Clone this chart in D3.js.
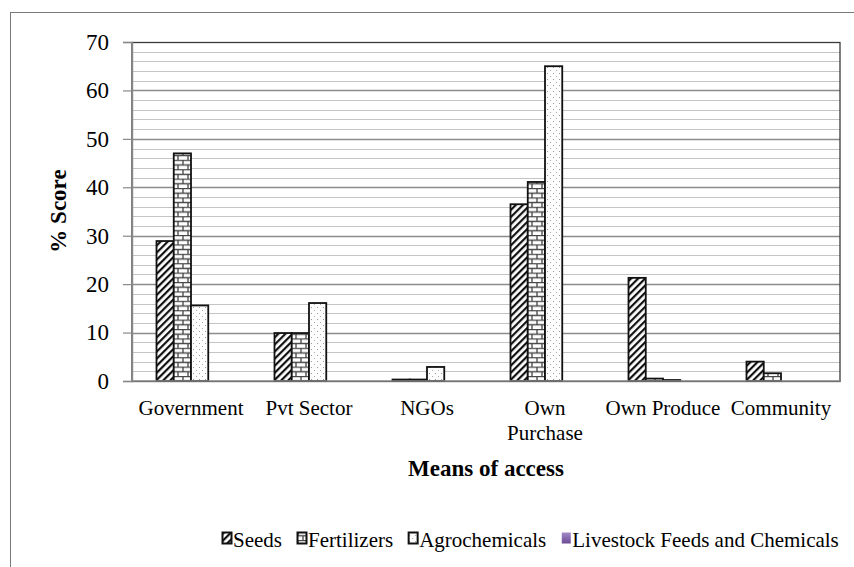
<!DOCTYPE html>
<html>
<head>
<meta charset="utf-8">
<script src="https://cdn.jsdelivr.net/npm/d3@7"></script>
<style>
  body { margin: 0; background: #fff; }
  svg text { font-family: "Liberation Serif", serif; fill: #000; }
</style>
</head>
<body>
<svg id="vis"></svg>
<script>
const categories = ["Government", "Pvt Sector", "NGOs", "Own Purchase", "Own Produce", "Community"];
const seriesNames = ["Seeds", "Fertilizers", "Agrochemicals", "Livestock Feeds and Chemicals"];
const seeds = [28.9, 9.9, 0.3, 36.5, 21.3, 4.0];
const fertilizers = [47.0, 9.9, 0.3, 41.1, 0.5, 1.6];
const agrochemicals = [15.6, 16.1, 2.9, 65.0, 0.2, 0];
const livestock = [0, 0, 0, 0, 0, 0];
const yTicks = [0, 10, 20, 30, 40, 50, 60, 70];

const WIDTH = 854;
const HEIGHT = 567;
const FONT = "Liberation Serif";
const plot = { left: 132, right: 840, top: 42, bottom: 381 };

const SVG = d3.select("#vis").attr("width", WIDTH).attr("height", HEIGHT)
  .attr("font-family", FONT);

// patterns for the bars
const defs = SVG.append("defs");

const hatch = defs.append("pattern").attr("id", "p_seeds")
  .attr("patternUnits", "userSpaceOnUse")
  .attr("width", 5).attr("height", 5)
  .attr("patternTransform", "rotate(45)");
hatch.append("rect").attr("width", 5).attr("height", 5).attr("fill", "#fff");
hatch.append("rect").attr("width", 2.2).attr("height", 5).attr("fill", "#111");

const brick = defs.append("pattern").attr("id", "p_fert")
  .attr("patternUnits", "userSpaceOnUse")
  .attr("width", 10).attr("height", 9.4);
brick.append("rect").attr("width", 10).attr("height", 9.4).attr("fill", "#fff");
brick.append("path")
  .attr("d", "M0,0.5H10M0,5.2H10M1,0.5V5.2M6,5.2V9.4")
  .attr("stroke", "#444").attr("stroke-width", 1.3).attr("fill", "none");

const dots = defs.append("pattern").attr("id", "p_agro")
  .attr("patternUnits", "userSpaceOnUse")
  .attr("width", 6).attr("height", 6);
dots.append("rect").attr("width", 6).attr("height", 6).attr("fill", "#fdfdfd");
dots.append("rect").attr("x", 1).attr("y", 1).attr("width", 1).attr("height", 1).attr("fill", "#999");
dots.append("rect").attr("x", 4).attr("y", 4).attr("width", 1).attr("height", 1).attr("fill", "#aaa");

const grad = defs.append("linearGradient").attr("id", "p_live")
  .attr("x1", 0).attr("y1", 0).attr("x2", 0).attr("y2", 1);
grad.append("stop").attr("offset", "0%").attr("stop-color", "#a48bc8");
grad.append("stop").attr("offset", "100%").attr("stop-color", "#6a4a94");

const fills = ["url(#p_seeds)", "url(#p_fert)", "url(#p_agro)", "url(#p_live)"];

// outer chart frame (clipped by the page)
SVG.append("rect")
  .attr("x", 10.5).attr("y", 12.5)
  .attr("width", 900).attr("height", 700)
  .attr("fill", "none").attr("stroke", "#7a7a7a");

const y = d3.scaleLinear().domain([0, 70]).range([plot.bottom, plot.top]);
const x0 = d3.scaleBand().domain(categories).range([plot.left, plot.right]);
const x1 = d3.scaleBand().domain(seriesNames).range([0, x0.bandwidth()]).paddingOuter(1.42);

// grid lines, minor every 2, major every 10
const grid = SVG.append("g");
grid.selectAll("line")
  .data(d3.range(2, 70, 2))
  .join("line")
  .attr("x1", plot.left).attr("x2", plot.right)
  .attr("y1", d => Math.round(y(d)) + 0.5).attr("y2", d => Math.round(y(d)) + 0.5)
  .attr("stroke", d => d % 10 === 0 ? "#8c8c8c" : "#c4c4c4")
  .attr("stroke-width", d => d % 10 === 0 ? 1.4 : 1.2);

// plot border
SVG.append("rect")
  .attr("x", plot.left).attr("y", plot.top + 0.5)
  .attr("width", plot.right - plot.left).attr("height", plot.bottom - plot.top)
  .attr("fill", "none").attr("stroke", "#3a3a3a").attr("stroke-width", 1.3);

// bars
const table = categories.map((c, i) => ({
  cat: c,
  vals: [seeds[i], fertilizers[i], agrochemicals[i], livestock[i]]
}));

const groups = SVG.append("g").selectAll("g")
  .data(table)
  .join("g")
  .attr("transform", d => `translate(${x0(d.cat)},0)`);

groups.selectAll("rect")
  .data(d => d.vals.map((v, k) => ({ name: seriesNames[k], v: v, k: k })).filter(d => d.v > 0))
  .join("rect")
  .attr("x", d => x1(d.name))
  .attr("y", d => y(d.v))
  .attr("width", x1.bandwidth())
  .attr("height", d => y(0) - y(d.v))
  .attr("fill", d => fills[d.k])
  .attr("stroke", "#111")
  .attr("stroke-width", 1.8);

// y axis
const yAxis = SVG.append("g")
  .attr("transform", `translate(${plot.left},0)`)
  .call(d3.axisLeft(y).tickValues(yTicks).tickSize(9).tickPadding(14));
yAxis.attr("font-family", FONT).attr("font-size", 23);
yAxis.select(".domain").attr("stroke", "#888").attr("stroke-width", 1.4);
yAxis.selectAll(".tick line").attr("stroke", "#888").attr("stroke-width", 1.2);
yAxis.selectAll(".tick text").attr("fill", "#000");

// x axis baseline
SVG.append("line")
  .attr("x1", plot.left).attr("x2", plot.right)
  .attr("y1", plot.bottom).attr("y2", plot.bottom)
  .attr("stroke", "#888").attr("stroke-width", 1.4);

// category labels
const xl = SVG.append("g").selectAll("text")
  .data(categories)
  .join("text")
  .attr("x", d => x0(d) + x0.bandwidth() / 2)
  .attr("y", 415)
  .attr("text-anchor", "middle")
  .attr("font-size", 21);
xl.each(function(d) {
  const t = d3.select(this);
  if (d === "Own Purchase") {
    t.append("tspan").attr("x", t.attr("x")).attr("dy", 0).text("Own");
    t.append("tspan").attr("x", t.attr("x")).attr("dy", 25).text("Purchase");
  } else {
    t.text(d);
  }
});

// axis titles
SVG.append("text")
  .attr("x", 486).attr("y", 476)
  .attr("text-anchor", "middle")
  .attr("font-size", 23).attr("font-weight", "bold")
  .text("Means of access");

SVG.append("text")
  .attr("transform", `translate(66,211) rotate(-90)`)
  .attr("text-anchor", "middle")
  .attr("font-size", 23).attr("font-weight", "bold")
  .text("% Score");

// legend
const legend = SVG.append("g").attr("transform", "translate(222,540)");
let lx = 0;
seriesNames.forEach((name, k) => {
  const g = legend.append("g").attr("transform", `translate(${lx},0)`);
  g.append("rect")
    .attr("x", 0.5).attr("y", -7.5).attr("width", 9).attr("height", 11)
    .attr("fill", fills[k])
    .attr("stroke", k === 3 ? "none" : "#111").attr("stroke-width", 2);
  const t = g.append("text")
    .attr("x", 11).attr("y", 7)
    .attr("font-size", 21)
    .text(name);
  lx += 11 + t.node().getComputedTextLength() + 15;
});
</script>
</body>
</html>
